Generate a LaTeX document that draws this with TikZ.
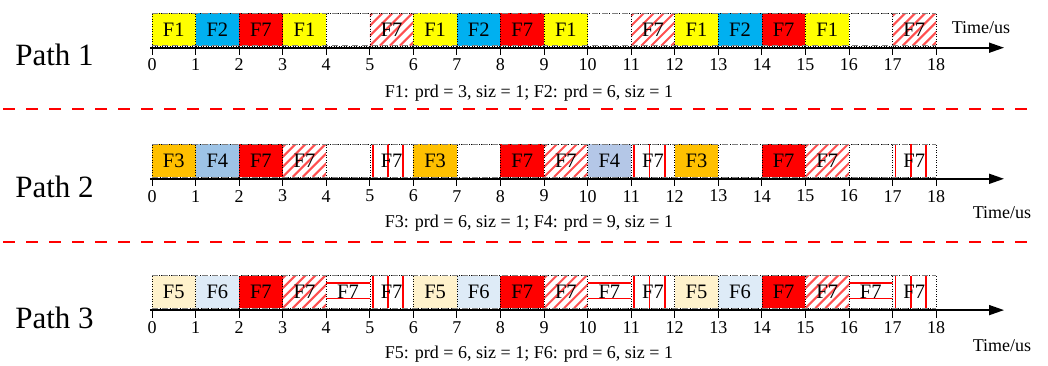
\documentclass[tikz,border=0pt]{standalone}
\usepackage{fontspec}
\setmainfont{Liberation Serif}
\usetikzlibrary{arrows.meta}
\definecolor{cyel}{RGB}{255,255,0}
\definecolor{ccya}{RGB}{0,176,240}
\definecolor{cred}{RGB}{255,0,0}
\definecolor{cora}{RGB}{255,192,0}
\definecolor{cblu}{RGB}{157,195,230}
\definecolor{cblb}{RGB}{180,199,231}
\definecolor{cbei}{RGB}{255,242,204}
\definecolor{clbl}{RGB}{222,235,247}
\definecolor{cstripe}{RGB}{255,80,80}
\definecolor{cframe}{RGB}{128,128,128}
\tikzset{
  cell/.style={draw=black, dotted, line width=0.5pt, minimum width=43.56pt, minimum height=32.5pt,
    inner sep=0pt, outer sep=0pt, anchor=south west, font=\fontsize{20.5}{20.5}\selectfont},
  yel/.style={fill=cyel}, cya/.style={fill=ccya}, rd/.style={fill=cred},
  ora/.style={fill=cora}, blu/.style={fill=cblu}, blb/.style={fill=cblb},
  bei/.style={fill=cbei}, lbl/.style={fill=clbl}, emp/.style={fill=white},
  hat/.style={fill=white, path picture={\foreach \o in {-40,-30,...,50}{\draw[cstripe,solid,line width=2pt]
      ([xshift=\o pt]path picture bounding box.south west) -- ++(45:65pt);}}},
  vln/.style={fill=white, path picture={\foreach \t in {3,18.3,33.5}{\draw[cred,solid,line width=1.8pt]
      ([xshift=\t pt]path picture bounding box.south west) -- ([xshift=\t pt]path picture bounding box.north west);}}},
  hln/.style={fill=white, path picture={\foreach \t in {7,22.6}{\draw[cred,solid,line width=1.6pt]
      ([yshift=-\t pt]path picture bounding box.north west) -- ([yshift=-\t pt]path picture bounding box.north east);}}},
  frame/.style={draw=cframe, line width=0.7pt, dash pattern=on 6pt off 4pt},
  axis/.style={draw=black, line width=1.6pt, -{Triangle[length=15pt,width=10pt]}},
  tick/.style={draw=black, line width=0.9pt},
  ticklab/.style={font=\fontsize{18}{18}\selectfont, inner sep=0pt},
  caption/.style={font=\fontsize{18}{18}\selectfont, inner sep=0pt},
  timelab/.style={font=\fontsize{18}{18}\selectfont, inner sep=0pt},
  pathlab/.style={font=\fontsize{31}{31}\selectfont, inner sep=0pt},
  sep/.style={draw=cred, line width=2.5pt, dash pattern=on 12pt off 11pt},
}
\newcommand\drawpath[3]{%
  \foreach \lab/\sty [count=\i from 0] in {#3} {\node[cell,\sty] (p#1c\i) at ({152+\i*43.56},{#2+32.5}) {\lab};}
  \draw[frame] (p#1c0.north west) -- (p#1c17.north east);
  \draw[frame] (p#1c0.south west) -- (p#1c17.south east);
  \coordinate (p#1a0) at (150,{#2+34.4});
  \coordinate (p#1a1) at (1004,{#2+34.4});
  \draw[axis] (p#1a0) -- (p#1a1);
  \foreach \k in {0,...,18} {
    \coordinate (p#1k\k) at ({152+\k*43.56},{#2+34.4});
    \draw[tick] (p#1k\k) -- ++(0,7.5);
    \node[ticklab] (p#1t\k) at ({152+\k*43.56},{#2+51.7}) {\k};
  }
  \node[pathlab] (p#1lab) at (54.5,{#2+42}) {Path #1};
}
\begin{document}
\begin{tikzpicture}[x=1pt,y=-1pt]
\useasboundingbox (0,0) rectangle (1048,365);
\drawpath{1}{13.3}{F1/yel, F2/cya, F7/rd, F1/yel, {}/emp, F7/hat, F1/yel, F2/cya, F7/rd, F1/yel, {}/emp, F7/hat, F1/yel, F2/cya, F7/rd, F1/yel, {}/emp, F7/hat}
\drawpath{2}{144.4}{F3/ora, F4/blu, F7/rd, F7/hat, {}/emp, F7/vln, F3/ora, {}/emp, F7/rd, F7/hat, F4/blb, F7/vln, F3/ora, {}/emp, F7/rd, F7/hat, {}/emp, F7/vln}
\drawpath{3}{275.7}{F5/bei, F6/lbl, F7/rd, F7/hat, F7/hln, F7/vln, F5/bei, F6/lbl, F7/rd, F7/hat, F7/hln, F7/vln, F5/bei, F6/lbl, F7/rd, F7/hat, F7/hln, F7/vln}
\node[caption] (cap1) at (529,93) {F1: prd = 3, siz = 1; F2: prd = 6, siz = 1};
\node[caption] (cap2) at (529,223) {F3: prd = 6, siz = 1; F4: prd = 9, siz = 1};
\node[caption] (cap3) at (529,354) {F5: prd = 6, siz = 1; F6: prd = 6, siz = 1};
\node[timelab] (time1) at (981,27.7) {Time/us};
\node[timelab] (time2) at (1002,213) {Time/us};
\node[timelab] (time3) at (1002,346) {Time/us};
\coordinate (s1a) at (3,109);
\coordinate (s1b) at (1030,109);
\coordinate (s2a) at (3,242);
\coordinate (s2b) at (1030,242);
\draw[sep] (s1a) -- (s1b);
\draw[sep] (s2a) -- (s2b);
\end{tikzpicture}
\end{document}
